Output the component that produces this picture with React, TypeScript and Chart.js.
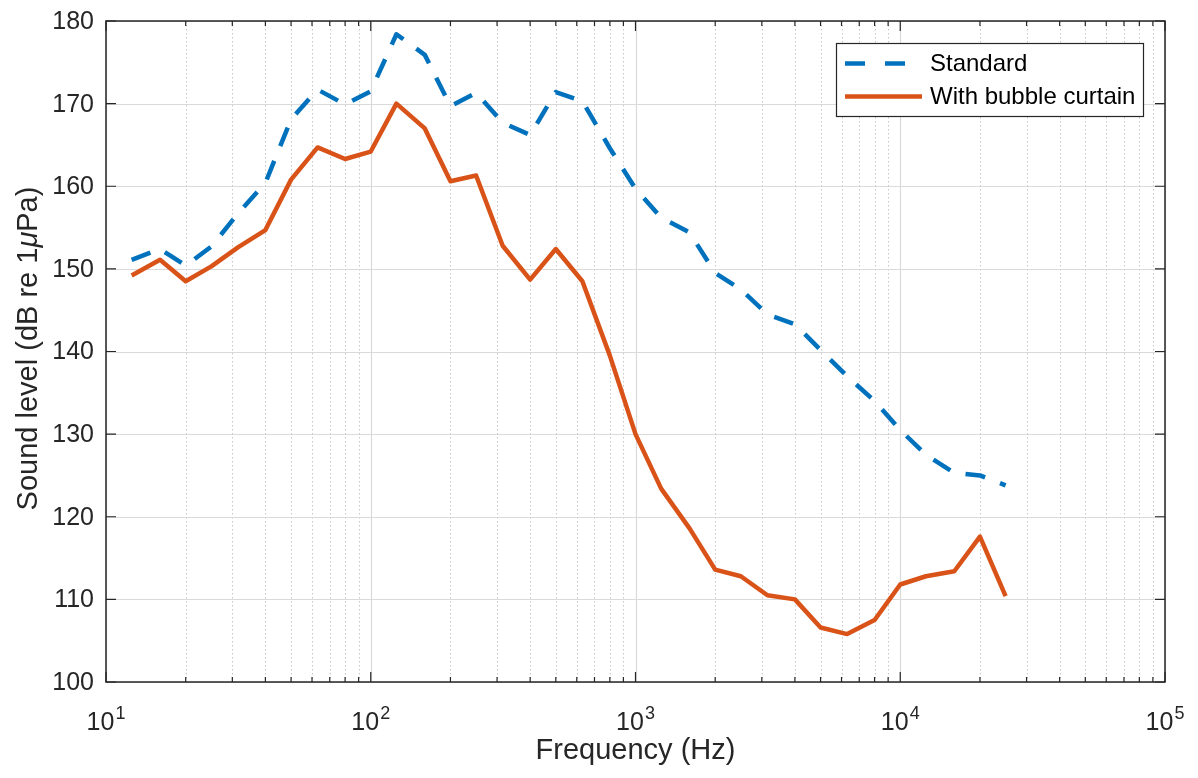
import { useEffect, useRef } from "react";
import { Chart, registerables } from "chart.js";

Chart.register(...registerables);

// ---- Data (1/3-octave band centre frequencies, Hz) ----
const frequencies = [
  12.5, 16, 20, 25, 31.5, 40, 50, 63, 80, 100, 125, 160, 200, 250, 315, 400, 500, 630, 800,
  1000, 1250, 1600, 2000, 2500, 3150, 4000, 5000, 6300, 8000, 10000, 12500, 16000, 20000, 25000,
];
const standardLevels = [
  151.1, 152.4, 150.4, 152.7, 156.7, 160.4, 168.1, 171.7, 169.9, 171.5, 178.4, 175.9, 169.7,
  171.3, 167.7, 166.2, 171.4, 170.3, 164.6, 159.7, 156.2, 154.4, 149.5, 147.5, 144.5, 143.3,
  140.2, 137.0, 134.0, 130.5, 127.5, 125.3, 125.0, 123.8,
];
const curtainLevels = [
  149.2, 151.1, 148.5, 150.3, 152.6, 154.7, 160.8, 164.7, 163.3, 164.2, 170.0, 167.0, 160.6,
  161.3, 152.8, 148.7, 152.4, 148.5, 139.5, 130.0, 123.4, 118.6, 113.6, 112.8, 110.5, 110.0,
  106.6, 105.8, 107.5, 111.8, 112.8, 113.4, 117.6, 110.4,
];
const seriesLabels = ["Standard", "With bubble curtain"];
const xTickExponents = [1, 2, 3, 4, 5];
const xMinorMultipliers = [2, 3, 4, 5, 6, 7, 8, 9];
const yTicks = [100, 110, 120, 130, 140, 150, 160, 170, 180];
const xTitle = "Frequency (Hz)";
const yTitleParts = ["Sound level (dB re 1", "\u03bc", "Pa)"];

const FONT = '"Liberation Sans", Arial, Helvetica, sans-serif';
const TEXT = "#262626";

const decorPlugin = {
  id: "matlabDecor",
  beforeDatasetsDraw(chart: any) {
    const { ctx, chartArea: a, scales } = chart;
    const xs = scales.x;
    const ys = scales.y;
    ctx.save();
    // minor vertical grid (dotted)
    ctx.lineWidth = 1;
    ctx.strokeStyle = "#c6c6c6";
    ctx.setLineDash([1.5, 2.5]);
    for (let e = 1; e < 5; e++) {
      for (const m of xMinorMultipliers) {
        const px = Math.round(xs.getPixelForValue(m * Math.pow(10, e))) + 0.5;
        ctx.beginPath();
        ctx.moveTo(px, a.top);
        ctx.lineTo(px, a.bottom);
        ctx.stroke();
      }
    }
    // major grid (solid)
    ctx.setLineDash([]);
    ctx.strokeStyle = "#dadada";
    ctx.lineWidth = 1.2;
    for (const e of xTickExponents) {
      const px = Math.round(xs.getPixelForValue(Math.pow(10, e))) + 0.5;
      ctx.beginPath();
      ctx.moveTo(px, a.top);
      ctx.lineTo(px, a.bottom);
      ctx.stroke();
    }
    for (const v of yTicks) {
      const py = Math.round(ys.getPixelForValue(v)) + 0.5;
      ctx.beginPath();
      ctx.moveTo(a.left, py);
      ctx.lineTo(a.right, py);
      ctx.stroke();
    }
    ctx.restore();
  },
  afterDatasetsDraw(chart: any) {
    const { ctx, chartArea: a, scales } = chart;
    const xs = scales.x;
    const ys = scales.y;
    ctx.save();
    ctx.setLineDash([]);
    ctx.strokeStyle = TEXT;
    ctx.lineWidth = 1.5;
    // box
    ctx.strokeRect(a.left, a.top, a.right - a.left, a.bottom - a.top);
    // ticks (inward)
    ctx.lineWidth = 1.2;
    const majorLen = 10;
    const minorLen = 5;
    ctx.beginPath();
    for (const e of xTickExponents) {
      const px = xs.getPixelForValue(Math.pow(10, e));
      ctx.moveTo(px, a.bottom);
      ctx.lineTo(px, a.bottom - majorLen);
      ctx.moveTo(px, a.top);
      ctx.lineTo(px, a.top + majorLen);
    }
    for (let e = 1; e < 5; e++) {
      for (const m of xMinorMultipliers) {
        const px = xs.getPixelForValue(m * Math.pow(10, e));
        ctx.moveTo(px, a.bottom);
        ctx.lineTo(px, a.bottom - minorLen);
        ctx.moveTo(px, a.top);
        ctx.lineTo(px, a.top + minorLen);
      }
    }
    for (const v of yTicks) {
      const py = ys.getPixelForValue(v);
      ctx.moveTo(a.left, py);
      ctx.lineTo(a.left + majorLen, py);
      ctx.moveTo(a.right, py);
      ctx.lineTo(a.right - majorLen, py);
    }
    ctx.stroke();

    // y tick labels
    ctx.fillStyle = TEXT;
    ctx.font = `25px ${FONT}`;
    ctx.textAlign = "right";
    ctx.textBaseline = "middle";
    for (const v of yTicks) {
      ctx.fillText(String(v), a.left - 12, ys.getPixelForValue(v) + 1);
    }
    // x tick labels 10^n
    ctx.textAlign = "left";
    ctx.textBaseline = "alphabetic";
    for (const e of xTickExponents) {
      const px = xs.getPixelForValue(Math.pow(10, e));
      ctx.font = `25px ${FONT}`;
      const wb = ctx.measureText("10").width;
      ctx.font = `18px ${FONT}`;
      const we = ctx.measureText(String(e)).width;
      const start = px - (wb + we + 1) / 2;
      ctx.font = `25px ${FONT}`;
      ctx.fillText("10", start, a.bottom + 48);
      ctx.font = `18px ${FONT}`;
      ctx.fillText(String(e), start + wb + 1, a.bottom + 37);
    }
    // x title
    ctx.font = `29px ${FONT}`;
    ctx.textAlign = "center";
    ctx.fillText(xTitle, (a.left + a.right) / 2, a.bottom + 77);
    // y title (rotated, italic mu)
    ctx.save();
    ctx.translate(29, (a.top + a.bottom) / 2 - 3);
    ctx.rotate(-Math.PI / 2);
    ctx.textAlign = "left";
    ctx.textBaseline = "middle";
    const fonts = [`29px ${FONT}`, `italic 29px ${FONT}`, `29px ${FONT}`];
    let total = 0;
    const widths = yTitleParts.map((t, i) => {
      ctx.font = fonts[i];
      const w = ctx.measureText(t).width;
      total += w;
      return w;
    });
    let cx = -total / 2;
    yTitleParts.forEach((t, i) => {
      ctx.font = fonts[i];
      ctx.fillText(t, cx, 0);
      cx += widths[i];
    });
    ctx.restore();

    // legend
    const lx = 836, ly = 43, lw = 307, lh = 73;
    ctx.fillStyle = "#ffffff";
    ctx.fillRect(lx, ly, lw, lh);
    ctx.strokeStyle = TEXT;
    ctx.lineWidth = 1.2;
    ctx.strokeRect(lx + 0.5, ly + 0.5, lw, lh);
    const rows = [63.5, 96.5];
    chart.data.datasets.forEach((ds: any, i: number) => {
      const yy = rows[i];
      ctx.save();
      ctx.strokeStyle = ds.borderColor;
      ctx.lineWidth = ds.borderWidth;
      ctx.setLineDash(ds.borderDash ? [20, 20] : []);
      ctx.lineCap = "butt";
      ctx.beginPath();
      ctx.moveTo(845, yy);
      ctx.lineTo(922, yy);
      ctx.stroke();
      ctx.restore();
      ctx.fillStyle = "#000000";
      ctx.font = `24px ${FONT}`;
      ctx.textAlign = "left";
      ctx.textBaseline = "middle";
      ctx.fillText(ds.label, 930, yy + 1);
    });
    ctx.restore();
  },
};

export default function App() {
  const canvasRef = useRef<HTMLCanvasElement | null>(null);

  useEffect(() => {
    const canvas = canvasRef.current;
    if (!canvas) return;
    const chart = new Chart(canvas, {
      type: "line",
      data: {
        datasets: [
          {
            label: seriesLabels[0],
            data: frequencies.map((f, i) => ({ x: f, y: standardLevels[i] })),
            borderColor: "#0072BD",
            borderWidth: 4.5,
            borderDash: [20, 16],
            borderCapStyle: "butt",
            borderJoinStyle: "round",
            pointRadius: 0,
            tension: 0,
            fill: false,
          },
          {
            label: seriesLabels[1],
            data: frequencies.map((f, i) => ({ x: f, y: curtainLevels[i] })),
            borderColor: "#D95319",
            borderWidth: 4.5,
            borderCapStyle: "butt",
            borderJoinStyle: "round",
            pointRadius: 0,
            tension: 0,
            fill: false,
          },
        ],
      },
      options: {
        responsive: false,
        animation: false,
        layout: { padding: { left: 0, top: 21, right: 33, bottom: 0 } },
        plugins: { legend: { display: false }, tooltip: { enabled: false } },
        scales: {
          x: {
            type: "logarithmic",
            min: 10,
            max: 100000,
            ticks: { display: false },
            grid: { display: false },
            border: { display: false },
            afterFit: (s: any) => {
              s.height = 96;
            },
          },
          y: {
            type: "linear",
            min: 100,
            max: 180,
            ticks: { display: false },
            grid: { display: false },
            border: { display: false },
            afterFit: (s: any) => {
              s.width = 106;
            },
          },
        },
      } as any,
      plugins: [decorPlugin],
    });
    return () => chart.destroy();
  }, []);

  return (
    <div style={{ position: "absolute", left: 0, top: 0, width: 1198, height: 778, background: "#fff" }}>
      <canvas ref={canvasRef} width={1198} height={778} style={{ display: "block" }} />
    </div>
  );
}
